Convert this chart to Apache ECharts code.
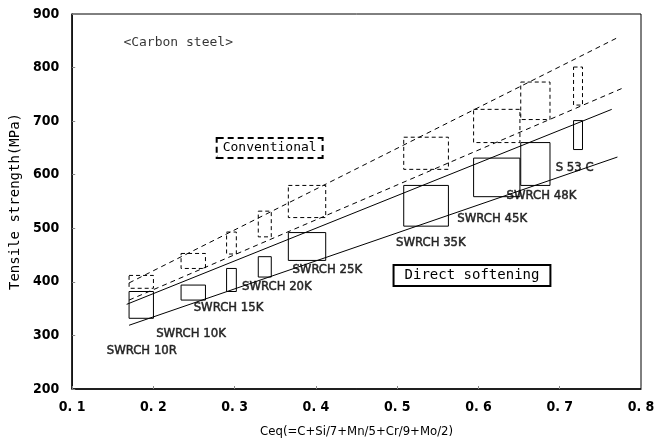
<!DOCTYPE html>
<html>
<head>
<meta charset="utf-8">
<script src="https://cdn.jsdelivr.net/npm/echarts@6/dist/echarts.min.js"></script>
<style>
html,body{margin:0;padding:0;background:#fff;}
#main{width:668px;height:443px;}
</style>
</head>
<body>
<div id="main"></div>
<script>
// 坐标轴范围
var xMin=0.1, xMax=0.8, xStep=0.1;
var yMin=200, yMax=900, yStep=100;

// 方框: [Ceq左, Ceq右, 强度下, 强度上]
var conventionalBoxes=[
    [0.170,0.200,388,412],
    [0.234,0.264,425,453],
    [0.290,0.302,452,493],
    [0.329,0.345,484,532],
    [0.366,0.412,520,580],
    [0.508,0.563,610,670],
    [0.594,0.651,660,722],
    [0.652,0.688,703,773],
    [0.717,0.728,730,801]
];
var softeningBoxes=[
    [0.170,0.200,332,382],
    [0.234,0.264,366,394],
    [0.290,0.302,382,425],
    [0.329,0.345,409,447],
    [0.366,0.412,440,492],
    [0.508,0.563,504,580],
    [0.594,0.651,559,631],
    [0.652,0.688,580,660],
    [0.717,0.728,647,701]
];

// 趋势线
var conventionalUpper=[[0.170,398],[0.770,855]];
var conventionalLower=[[0.170,366],[0.778,762]];
var softeningUpper=[[0.167,358],[0.764,722]];
var softeningLower=[[0.170,319],[0.771,633]];

// 钢种标注 [文字, Ceq, 强度]
var gradeLabels=[
    ['SWRCH 10R',0.1425,271],
    ['SWRCH 10K',0.2033,304],
    ['SWRCH 15K',0.2495,351],
    ['SWRCH 20K',0.309,392],
    ['SWRCH 25K',0.371,423],
    ['SWRCH 35K',0.4985,474],
    ['SWRCH 45K',0.574,518],
    ['SWRCH 48K',0.6346,561],
    ['S 53 C',0.695,613]
];
var titleNote=['<Carbon steel>',0.163,846];
// 图例框 [文字, Ceq中心, 强度中心]
var legendNotes=[
    ['Conventional',0.343,650],
    ['Direct softening',0.592,412]
];

var FONT='"DejaVu Sans Condensed",sans-serif';
var MONO='"DejaVu Sans Mono","Liberation Mono",monospace';

function boxRender(dashed){
    return function(params, api){
        var p0=api.coord([api.value(0), api.value(3)]);
        var p1=api.coord([api.value(1), api.value(2)]);
        return {
            type:'rect',
            shape:{x:p0[0], y:p0[1], width:p1[0]-p0[0], height:p1[1]-p0[1]},
            style:{fill:'none', stroke:'#000', lineWidth:1, lineDash:dashed?[4,3]:null}
        };
    };
}

function lineSeries(data, dashed){
    return {
        type:'line',
        data:data,
        symbol:'none',
        silent:true,
        lineStyle:{color:'#000', width:1, type:dashed?[5,4]:'solid'}
    };
}

function noteSeries(items, labelOpt){
    return {
        type:'scatter',
        symbolSize:0,
        silent:true,
        data:items.map(function(o){return {value:[o[1],o[2]], name:o[0]};}),
        label:Object.assign({
            show:true,
            position:'right',
            distance:0,
            formatter:'{b}',
            color:'#000',
            textBorderColor:'#000',
            textBorderWidth:0.5,
            fontFamily:FONT,
            fontSize:13
        }, labelOpt||{})
    };
}

// 图例框: 第一个虚线, 第二个实线
function legendRender(params, api){
    var p=api.coord([api.value(1), api.value(2)]);
    var dashed=params.dataIndex===0;
    return {
        type:'text',
        x:p[0], y:p[1],
        style:{
            text:legendNotes[params.dataIndex][0],
            align:'center',
            verticalAlign:'middle',
            font:(dashed?'13px ':'14px ')+MONO,
            fill:'#000',
            backgroundColor:'#fff',
            borderColor:'#000',
            borderWidth:2,
            borderDash:dashed?[6,4]:null,
            padding:dashed?[3,5,2,5]:[3,10,2,10]
        }
    };
}

var myChart=echarts.init(document.getElementById('main'));

var option={
    animation:false,
    backgroundColor:'#fff',
    grid:{left:65, right:27, top:14, bottom:53, show:true, borderColor:'#000', borderWidth:1},
    xAxis:{
        type:'value',
        min:xMin, max:xMax, interval:xStep,
        name:'Ceq(=C+Si/7+Mn/5+Cr/9+Mo/2)',
        nameLocation:'middle',
        nameGap:36,
        nameTextStyle:{color:'#000', fontFamily:FONT, fontSize:13},
        axisLine:{lineStyle:{color:'#000', width:1.5}},
        axisTick:{inside:true, length:3, lineStyle:{color:'#888'}},
        splitLine:{show:false},
        axisLabel:{
            color:'#000', fontFamily:FONT, fontSize:14, fontWeight:'bold', margin:11,
            formatter:function(v){return v.toFixed(1).replace('.', '. ');}
        }
    },
    yAxis:{
        type:'value',
        min:yMin, max:yMax, interval:yStep,
        name:'Tensile strength(MPa)',
        nameLocation:'middle',
        nameGap:46,
        nameTextStyle:{color:'#000', fontFamily:MONO, fontSize:14},
        axisLine:{lineStyle:{color:'#000', width:1.5}},
        axisTick:{inside:true, length:3, lineStyle:{color:'#888'}},
        splitLine:{show:false},
        axisLabel:{color:'#000', fontFamily:FONT, fontSize:14, fontWeight:'bold', margin:13}
    },
    series:[
        {
            type:'custom',
            renderItem:boxRender(true),
            encode:{x:[0,1], y:[2,3]},
            data:conventionalBoxes,
            silent:true
        },
        {
            type:'custom',
            renderItem:boxRender(false),
            encode:{x:[0,1], y:[2,3]},
            data:softeningBoxes,
            silent:true
        },
        lineSeries(conventionalUpper, true),
        lineSeries(conventionalLower, true),
        lineSeries(softeningUpper, false),
        lineSeries(softeningLower, false),
        noteSeries(gradeLabels),
        noteSeries([titleNote], {fontFamily:MONO, textBorderWidth:0}),
        {
            type:'custom',
            renderItem:legendRender,
            encode:{x:1, y:2},
            data:legendNotes,
            silent:true
        }
    ]
};

myChart.setOption(option);
</script>
</body>
</html>
